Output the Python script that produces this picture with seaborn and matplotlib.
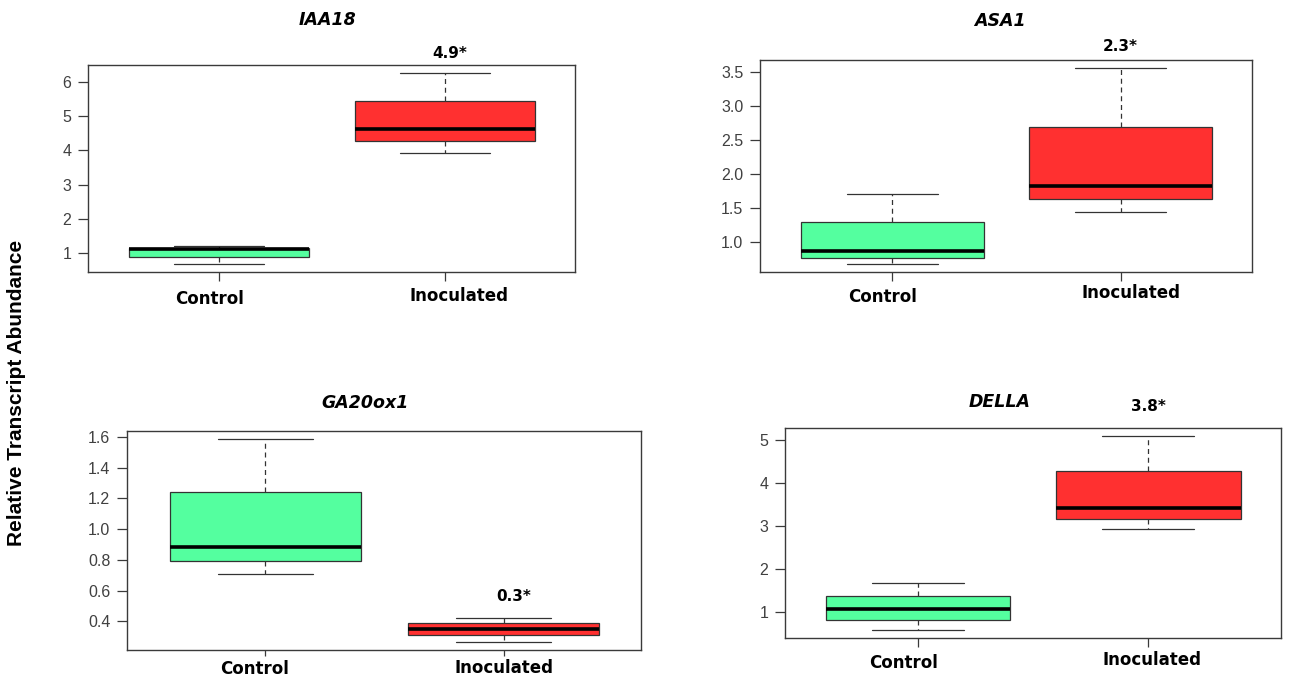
import numpy as np
import pandas as pd
import matplotlib
matplotlib.use("Agg")
import matplotlib.pyplot as plt
import matplotlib.transforms as mtransforms
import seaborn as sns

# ---------------- data (five-number summaries) -------------
genes = ["IAA18", "ASA1", "GA20ox1", "DELLA"]
groups = ["Control", "Inoculated"]

# [lower whisker, lower hinge, median, upper hinge, upper whisker]
iaa18_control = [0.68, 0.90, 1.14, 1.17, 1.22]
iaa18_inoculated = [3.93, 4.27, 4.63, 5.44, 6.27]
asa1_control = [0.67, 0.76, 0.87, 1.29, 1.70]
asa1_inoculated = [1.44, 1.63, 1.82, 2.69, 3.56]
ga20ox1_control = [0.71, 0.79, 0.886, 1.242, 1.587]
ga20ox1_inoculated = [0.265, 0.311, 0.352, 0.387, 0.422]
della_control = [0.565, 0.814, 1.07, 1.35, 1.66]
della_inoculated = [2.93, 3.16, 3.40, 4.27, 5.09]

fold_labels = ["4.9*", "2.3*", "0.3*", "3.8*"]

yticks_iaa18 = [1, 2, 3, 4, 5, 6]
yticks_asa1 = [1.0, 1.5, 2.0, 2.5, 3.0, 3.5]
yticks_ga20ox1 = [0.4, 0.6, 0.8, 1.0, 1.2, 1.4, 1.6]
yticks_della = [1, 2, 3, 4, 5]

series = {
    "IAA18": (iaa18_control, iaa18_inoculated, yticks_iaa18, "{:.0f}"),
    "ASA1": (asa1_control, asa1_inoculated, yticks_asa1, "{:.1f}"),
    "GA20ox1": (ga20ox1_control, ga20ox1_inoculated, yticks_ga20ox1, "{:.1f}"),
    "DELLA": (della_control, della_inoculated, yticks_della, "{:.0f}"),
}

# ---------------- layout / style ---------------------------------------------------
W, H = 1290, 680
sns.set_theme(style="white")
plt.rcParams["font.family"] = ["DejaVu Sans"]

fig = plt.figure(figsize=(W / 100, H / 100), dpi=100)

# axes boxes in pixels: left, top, right, bottom
ax_px = [(88, 65, 575, 272), (760, 60, 1252, 272), (127, 431, 641, 650), (785, 428, 1281, 638)]
title_px = [(328, 20), (1000, 21), (365, 403), (1000, 402)]
annot_pos = [(1.02, 6.84), (1.0, 3.88), (1.04, 0.558), (1.0, 5.78)]
# x-label offsets (px) for Control / Inoculated, base pad (pt) and tick length (pt)
lab_dx = [(-9, 14), (-10, 10), (-11, 0), (-15, 4)]
lab_dy = [(-3, 0), (-3, 0), (-1, 0), (-3, 0)]
lab_pad = [4.0, 2.5, 2.5, 3.0]
tick_len = [6.5, 6.5, 4.3, 6.5]

palette = {"Control": "#54FF9F", "Inoculated": "#FF3030"}
frame_col = "#3a3a3a"
tick_col = "#404040"

for i, gene in enumerate(genes):
    ctrl, inoc, yt, fmt = series[gene]
    df = pd.DataFrame({
        "group": [groups[0]] * len(ctrl) + [groups[1]] * len(inoc),
        "value": list(ctrl) + list(inoc),
    })
    l, t, r, b = ax_px[i]
    ax = fig.add_axes([l / W, 1 - b / H, (r - l) / W, (b - t) / H])
    sns.boxplot(
        data=df, x="group", y="value", hue="group", palette=palette,
        order=groups, hue_order=groups, legend=False, saturation=1,
        whis=np.inf, width=0.8, showfliers=False,
        linecolor="#333333", linewidth=0.9, ax=ax,
        medianprops=dict(color="black", linewidth=2.6),
        whiskerprops=dict(color="#333333", linewidth=0.9, linestyle=(0, (4, 3))),
        capprops=dict(color="#333333", linewidth=0.9),
        boxprops=dict(edgecolor="#333333", linewidth=0.9),
    )
    vals = np.array(list(ctrl) + list(inoc))
    rng = vals.max() - vals.min()
    ax.set_ylim(vals.min() - 0.04 * rng, vals.max() + 0.04 * rng)
    ax.set_xlim(-0.58, 1.576)
    ax.set_xlabel("")
    ax.set_ylabel("")
    ax.set_yticks(yt)
    ax.set_yticklabels([fmt.format(v) for v in yt], family="Liberation Sans",
                       fontsize=11.5, color=tick_col)
    ax.set_xticks([0, 1])
    ax.set_xticklabels(groups, fontsize=12, fontweight="bold", color="black")
    ax.tick_params(axis="y", direction="out", length=7, width=0.9, color=frame_col,
                   pad=5, left=True)
    ax.tick_params(axis="x", direction="out", length=tick_len[i], width=0.9,
                   color=frame_col, pad=lab_pad[i], bottom=True)
    for lab, dx, dy in zip(ax.get_xticklabels(), lab_dx[i], lab_dy[i]):
        off = mtransforms.ScaledTranslation(dx / 100, dy / 100, fig.dpi_scale_trans)
        lab.set_transform(lab.get_transform() + off)
    for sp in ax.spines.values():
        sp.set_visible(True)
        sp.set_color(frame_col)
        sp.set_linewidth(1.0)
    ax.grid(False)
    ax.set_facecolor("white")

    ax.text(annot_pos[i][0], annot_pos[i][1], fold_labels[i], ha="center", va="center",
            fontsize=11, fontweight="bold", color="black", clip_on=False)
    fig.text(title_px[i][0] / W, 1 - title_px[i][1] / H, gene, ha="center", va="center",
             fontsize=12.5, fontweight="bold", fontstyle="italic", color="black")

fig.text(17 / W, 1 - 393 / H, "Relative Transcript Abundance", rotation=90,
         ha="center", va="center", fontsize=15, fontweight="bold",
         family="Liberation Sans", color="black")

fig.savefig("out.png", dpi=100, facecolor="white")
